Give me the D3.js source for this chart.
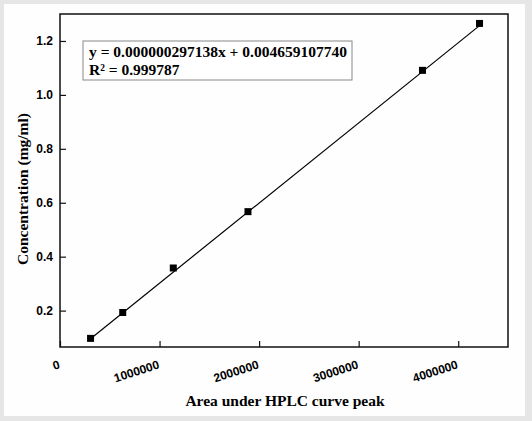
<!DOCTYPE html>
<html>
<head>
<meta charset="utf-8">
<script src="https://cdn.jsdelivr.net/npm/d3@7"></script>
<style>
  body { margin: 0; background: #e6e6e6; }
  svg { display: block; }
</style>
</head>
<body>
<svg width="532" height="421"></svg>
<script>
// calibration points
var peakArea = [307000, 630000, 1138000, 1888000, 3641000, 4214000];
var concentration = [0.097, 0.193, 0.358, 0.567, 1.091, 1.265];

var xMajor = [0, 1000000, 2000000, 3000000, 4000000];
var xMinor = [500000, 1500000, 2500000, 3500000];
var yMajor = [0.2, 0.4, 0.6, 0.8, 1.0, 1.2];
var yMinor = [0.1, 0.3, 0.5, 0.7, 0.9, 1.1];

var slope = 0.000000297138;
var intercept = 0.004659107740;
var eqLines = ["y = 0.000000297138x + 0.004659107740", "R\u00b2 = 0.999787"];

var svg = d3.select('svg');

svg.append('rect')
    .attr('x', 4).attr('y', 4)
    .attr('width', 521).attr('height', 412)
    .attr('fill', '#fefefe');

// plot frame (window.top is read-only, so no plain "top")
var pl = 60, pr = 508, pt = 14, pb = 347;

var x = d3.scaleLinear().domain([0, 4500000]).range([pl, pr]);
var y = d3.scaleLinear().domain([0.065, 1.3]).range([pb, pt]);

// x axis - ticks point inward
var gx = svg.append('g').attr('transform', 'translate(0,' + pb + ')');
gx.call(d3.axisBottom(x).tickValues(xMinor).tickSize(-4).tickFormat(''));
gx.call(d3.axisBottom(x).tickValues(xMajor).tickSize(-6).tickFormat(d3.format('d')));
gx.selectAll('.domain').remove();
gx.selectAll('line').attr('stroke', '#111').attr('stroke-width', 1.2);
gx.selectAll('text')
    .attr('font-family', 'Liberation Sans, Arial, sans-serif')
    .attr('font-weight', 'bold')
    .attr('font-size', 12)
    .attr('fill', '#000')
    .attr('text-anchor', 'end')
    .attr('y', 0).attr('dy', 0)
    .attr('transform', 'translate(0,21) rotate(-18)');

// y axis
var gy = svg.append('g').attr('transform', 'translate(' + pl + ',0)');
gy.call(d3.axisLeft(y).tickValues(yMinor).tickSize(-4).tickFormat(''));
gy.call(d3.axisLeft(y).tickValues(yMajor).tickSize(-6).tickFormat(d3.format('.1f')));
gy.selectAll('.domain').remove();
gy.selectAll('line').attr('stroke', '#111').attr('stroke-width', 1.2);
gy.selectAll('text')
    .attr('font-family', 'Liberation Sans, Arial, sans-serif')
    .attr('font-weight', 'bold')
    .attr('font-size', 12)
    .attr('fill', '#000')
    .attr('x', -7);

// frame
svg.append('rect')
    .attr('x', pl).attr('y', pt)
    .attr('width', pr - pl).attr('height', pb - pt)
    .attr('fill', 'none')
    .attr('stroke', '#111')
    .attr('stroke-width', 1.5);

// fitted line
var x0 = d3.min(peakArea), x1 = d3.max(peakArea);
svg.append('line')
    .attr('x1', x(x0)).attr('y1', y(slope * x0 + intercept))
    .attr('x2', x(x1)).attr('y2', y(slope * x1 + intercept))
    .attr('stroke', '#000')
    .attr('stroke-width', 1.2);

// markers
svg.append('g')
    .selectAll('rect')
    .data(peakArea)
    .enter()
    .append('rect')
    .attr('x', function (d) { return x(d) - 3.5; })
    .attr('y', function (d, i) { return y(concentration[i]) - 3.5; })
    .attr('width', 7).attr('height', 7)
    .attr('fill', '#000');

// equation box
svg.append('rect')
    .attr('x', 83).attr('y', 41)
    .attr('width', 269).attr('height', 39)
    .attr('fill', '#fff')
    .attr('stroke', '#888')
    .attr('stroke-width', 1);

svg.append('g')
    .selectAll('text')
    .data(eqLines)
    .enter()
    .append('text')
    .attr('x', 89)
    .attr('y', function (d, i) { return 57 + i * 18; })
    .attr('font-family', 'Liberation Serif, Times New Roman, serif')
    .attr('font-weight', 'bold')
    .attr('font-size', 15.5)
    .text(function (d) { return d; });

// axis titles
svg.append('text')
    .attr('x', 285).attr('y', 406)
    .attr('text-anchor', 'middle')
    .attr('font-family', 'Liberation Serif, Times New Roman, serif')
    .attr('font-weight', 'bold')
    .attr('font-size', 15.5)
    .text('Area under HPLC curve peak');

svg.append('text')
    .attr('transform', 'translate(28,189) rotate(-90)')
    .attr('text-anchor', 'middle')
    .attr('font-family', 'Liberation Serif, Times New Roman, serif')
    .attr('font-weight', 'bold')
    .attr('font-size', 15.5)
    .text('Concentration (mg/ml)');
</script>
</body>
</html>
